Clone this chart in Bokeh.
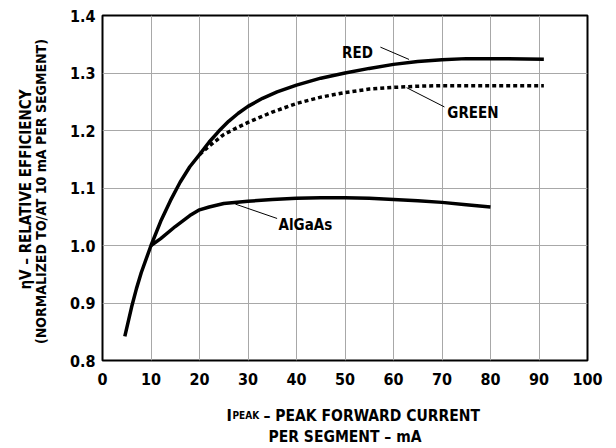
import math
from bokeh.plotting import figure
from bokeh.models import Label, FixedTicker, PrintfTickFormatter, Range1d
from bokeh.layouts import row, column
from bokeh.embed import file_html
from bokeh.resources import INLINE

# ---- data ----
red_x = [4.6, 6, 7, 8, 10, 12, 14, 16, 18, 20, 22, 24, 26, 28, 30, 33, 36, 40, 45, 50, 55, 60, 65, 70, 75, 80, 91]
red_y = [0.842, 0.893, 0.925, 0.953, 1.0, 1.042, 1.078, 1.110, 1.137, 1.158, 1.180, 1.199, 1.216, 1.230, 1.242, 1.256, 1.267, 1.279, 1.291, 1.300, 1.308, 1.315, 1.320, 1.323, 1.325, 1.325, 1.324]

green_x = [20, 22, 25, 28, 30, 35, 40, 45, 50, 55, 60, 65, 70, 80, 91]
green_y = [1.158, 1.173, 1.193, 1.206, 1.214, 1.232, 1.247, 1.258, 1.266, 1.272, 1.275, 1.277, 1.278, 1.278, 1.278]

algaas_x = [10, 12, 15, 18, 20, 22, 25, 30, 35, 40, 45, 50, 55, 60, 65, 70, 75, 80]
algaas_y = [1.0, 1.012, 1.033, 1.052, 1.062, 1.067, 1.073, 1.077, 1.080, 1.082, 1.083, 1.083, 1.082, 1.080, 1.078, 1.075, 1.071, 1.067]

x_ticks = [0, 10, 20, 30, 40, 50, 60, 70, 80, 90, 100]
y_ticks = [0.8, 0.9, 1.0, 1.1, 1.2, 1.3, 1.4]

x_title_1 = ["I", "PEAK", "\u2013 PEAK FORWARD CURRENT"]
x_title_2 = "PER SEGMENT \u2013 mA"
y_title_1 = "\u03b7V \u2013 RELATIVE EFFICIENCY"
y_title_2 = "(NORMALIZED TO/AT 10 mA PER SEGMENT)"

FONT = "DejaVu Sans Condensed"


def blank(width, height):
    f = figure(width=width, height=height, output_backend="svg", toolbar_location=None,
               x_axis_location=None, y_axis_location=None,
               x_range=Range1d(0, 1), y_range=Range1d(0, 1))
    f.min_border = 0
    f.min_border_left = 0
    f.min_border_right = 0
    f.min_border_top = 0
    f.min_border_bottom = 0
    f.outline_line_color = None
    f.grid.visible = False
    f.background_fill_color = "white"
    f.border_fill_color = "white"
    return f


def lab(fig, x, y, text, size="15px", align="left", baseline="alphabetic", angle=0.0, units="data"):
    fig.add_layout(Label(x=x, y=y, text=text, text_font=FONT, text_font_style="bold",
                         text_font_size=size, text_align=align, text_baseline=baseline,
                         angle=angle, text_color="black", x_units=units, y_units=units))


# ---- main chart ----
p = figure(width=548, height=392, output_backend="svg", toolbar_location=None,
           x_range=Range1d(0, 100), y_range=Range1d(0.8, 1.4))
p.min_border_left = 42
p.min_border_right = 21
p.min_border_top = 15
p.min_border_bottom = 32
p.background_fill_color = "white"
p.border_fill_color = "white"
p.outline_line_color = "black"
p.outline_line_width = 2

for ax in (p.xaxis[0], p.yaxis[0]):
    ax.axis_line_color = None
    ax.major_tick_line_color = None
    ax.minor_tick_line_color = None
    ax.major_tick_out = 0
    ax.major_tick_in = 0
    ax.major_label_text_font = FONT
    ax.major_label_text_font_style = "bold"
    ax.major_label_text_font_size = "16px"
    ax.major_label_text_color = "black"

p.xaxis[0].ticker = FixedTicker(ticks=x_ticks)
p.yaxis[0].ticker = FixedTicker(ticks=y_ticks)
p.yaxis[0].formatter = PrintfTickFormatter(format="%.1f")
p.xaxis[0].major_label_standoff = 12
p.yaxis[0].major_label_standoff = 7

p.xgrid.ticker = FixedTicker(ticks=x_ticks)
p.ygrid.ticker = FixedTicker(ticks=y_ticks)
for g in (p.xgrid[0], p.ygrid[0]):
    g.grid_line_color = "#a8a8a8"
    g.grid_line_width = 1

p.line(green_x, green_y, line_color="black", line_width=3.5, line_dash="4 3", line_cap="butt")
p.line(red_x, red_y, line_color="black", line_width=3.5, line_join="round")
p.line(algaas_x, algaas_y, line_color="black", line_width=3.5, line_join="round")

# leader lines
p.segment(x0=[57.3, 62.7, 27.4], y0=[1.345, 1.2745, 1.072],
          x1=[63.2, 70.5, 36.0], y1=[1.3236, 1.241, 1.047],
          line_color="black", line_width=1)

lab(p, 49.4, 1.334, "RED")
lab(p, 71.1, 1.230, "GREEN")
lab(p, 36.3, 1.0354, "AlGaAs")

# ---- left strip: y-axis title (its frame is aligned with the chart frame) ----
pl = blank(60, 392)
lab(pl, 25, 171, y_title_1, size="15px", align="center", baseline="middle", angle=math.pi / 2, units="screen")
lab(pl, 40.5, 169, y_title_2, size="14px", align="center", baseline="middle", angle=math.pi / 2, units="screen")

# ---- bottom strip: x-axis title ----
pb = blank(608, 52)
lab(pb, 226, 29, x_title_1[0], size="16px", units="screen")
lab(pb, 232, 29, x_title_1[1], size="10px", units="screen")
lab(pb, 263, 29, x_title_1[2], size="15.5px", units="screen")
lab(pb, 344.5, 8, x_title_2, size="15.5px", align="center", units="screen")

layout = column(row(pl, p, spacing=0), pb, spacing=0)
open("out.html", "w").write(file_html(layout, INLINE))
